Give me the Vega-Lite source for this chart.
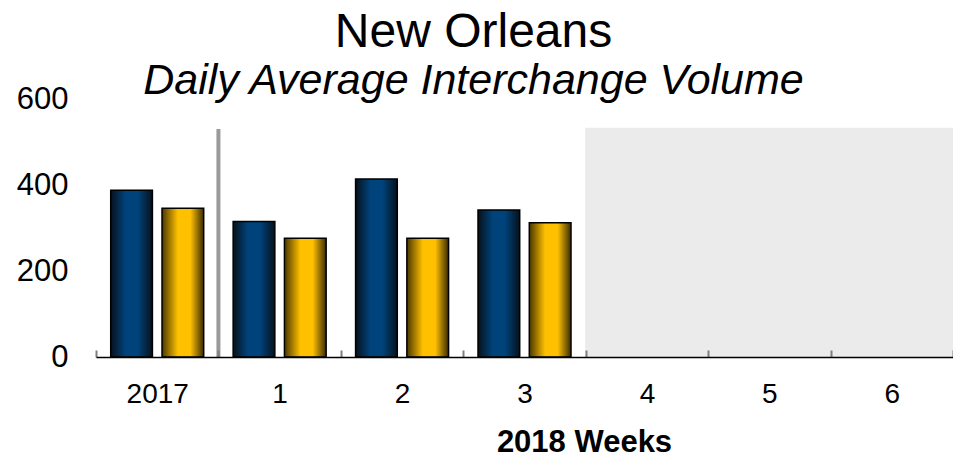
{
  "$schema": "https://vega.github.io/schema/vega-lite/v6.json",
  "autosize": {"type": "none"},
  "width": 857,
  "height": 258,
  "padding": {"left": 96, "top": 99, "right": 0, "bottom": 100},
  "background": "white",
  "config": {
    "view": {"stroke": null},
    "font": "Liberation Sans"
  },
  "title": {
    "text": "New Orleans",
    "subtitle": "Daily Average Interchange Volume",
    "font": "Liberation Sans",
    "fontSize": 48,
    "fontWeight": "normal",
    "color": "black",
    "subtitleFont": "Liberation Sans",
    "subtitleFontSize": 43,
    "subtitleFontStyle": "italic",
    "subtitleColor": "black",
    "subtitlePadding": 3,
    "anchor": "middle",
    "frame": "group",
    "dx": -51,
    "offset": -20
  },
  "data": {
    "values": [
      {"kind": "bar", "week": "2017", "series": "A", "value": 388},
      {"kind": "bar", "week": "2017", "series": "B", "value": 346},
      {"kind": "bar", "week": "1", "series": "A", "value": 315},
      {"kind": "bar", "week": "1", "series": "B", "value": 276},
      {"kind": "bar", "week": "2", "series": "A", "value": 414},
      {"kind": "bar", "week": "2", "series": "B", "value": 276},
      {"kind": "bar", "week": "3", "series": "A", "value": 342},
      {"kind": "bar", "week": "3", "series": "B", "value": 312},
      {"kind": "shade", "week": "4", "value": 532},
      {"kind": "shade", "week": "5", "value": 532},
      {"kind": "shade", "week": "6", "value": 532},
      {"kind": "sep", "week": "1", "value": 530}
    ]
  },
  "encoding": {
    "x": {
      "field": "week",
      "type": "nominal",
      "sort": null,
      "scale": {"domain": ["2017", "1", "2", "3", "4", "5", "6"], "paddingInner": 0, "paddingOuter": 0},
      "axis": {
        "zindex": 1,
        "title": "2018 Weeks",
        "titleFont": "Liberation Sans",
        "titleFontSize": 31,
        "titleFontWeight": "bold",
        "titleColor": "black",
        "titleX": 488,
        "titleY": 94,
        "titleBaseline": "alphabetic",
        "titleAnchor": "middle",
        "titleAlign": "center",
        "labelAngle": 0,
        "labelFont": "Liberation Sans",
        "labelFontSize": 28,
        "labelColor": "black",
        "labelPadding": 30,
        "domain": true,
        "domainColor": "black",
        "domainWidth": 1.5,
        "ticks": true,
        "tickBand": "extent",
        "tickSize": -7,
        "tickWidth": 2,
        "tickColor": "#7f7f7f",
        "grid": false
      }
    },
    "y": {
      "field": "value",
      "type": "quantitative",
      "scale": {"domain": [0, 600], "nice": false},
      "axis": {
        "title": null,
        "values": [0, 200, 400, 600],
        "labelFont": "Liberation Sans",
        "labelFontSize": 31,
        "labelColor": "black",
        "labelPadding": 28,
        "domain": false,
        "ticks": false,
        "grid": false
      }
    }
  },
  "layer": [
    {
      "transform": [{"filter": "datum.kind === 'shade'"}],
      "mark": {"type": "bar", "fill": "#ebebeb", "stroke": "#ebebeb", "strokeWidth": 1}
    },
    {
      "transform": [{"filter": "datum.kind === 'sep'"}],
      "mark": {"type": "rule", "color": "#9a9a9a", "strokeWidth": 4},
      "encoding": {
        "x": {"field": "week", "type": "nominal", "bandPosition": 0},
        "y2": {"datum": 0}
      }
    },
    {
      "transform": [{"filter": "datum.kind === 'bar' && datum.series === 'A'"}],
      "mark": {
        "type": "bar",
        "stroke": "black",
        "strokeWidth": 1.5,
        "fill": {
          "gradient": "linear", "x1": 0, "x2": 1, "y1": 0, "y2": 0,
          "stops": [
            {"offset": 0, "color": "#06111b"},
            {"offset": 0.35, "color": "#00427a"},
            {"offset": 0.65, "color": "#00427a"},
            {"offset": 1, "color": "#06111b"}
          ]
        }
      },
      "encoding": {
        "xOffset": {"field": "series", "type": "nominal", "scale": {"domain": ["A", "B"], "paddingInner": 0.187, "paddingOuter": 0.287}}
      }
    },
    {
      "transform": [{"filter": "datum.kind === 'bar' && datum.series === 'B'"}],
      "mark": {
        "type": "bar",
        "stroke": "black",
        "strokeWidth": 1.5,
        "fill": {
          "gradient": "linear", "x1": 0, "x2": 1, "y1": 0, "y2": 0,
          "stops": [
            {"offset": 0, "color": "#4a3700"},
            {"offset": 0.38, "color": "#ffc000"},
            {"offset": 0.68, "color": "#ffc000"},
            {"offset": 1, "color": "#3a2b00"}
          ]
        }
      },
      "encoding": {
        "xOffset": {"field": "series", "type": "nominal", "scale": {"domain": ["A", "B"], "paddingInner": 0.187, "paddingOuter": 0.287}}
      }
    }
  ]
}
